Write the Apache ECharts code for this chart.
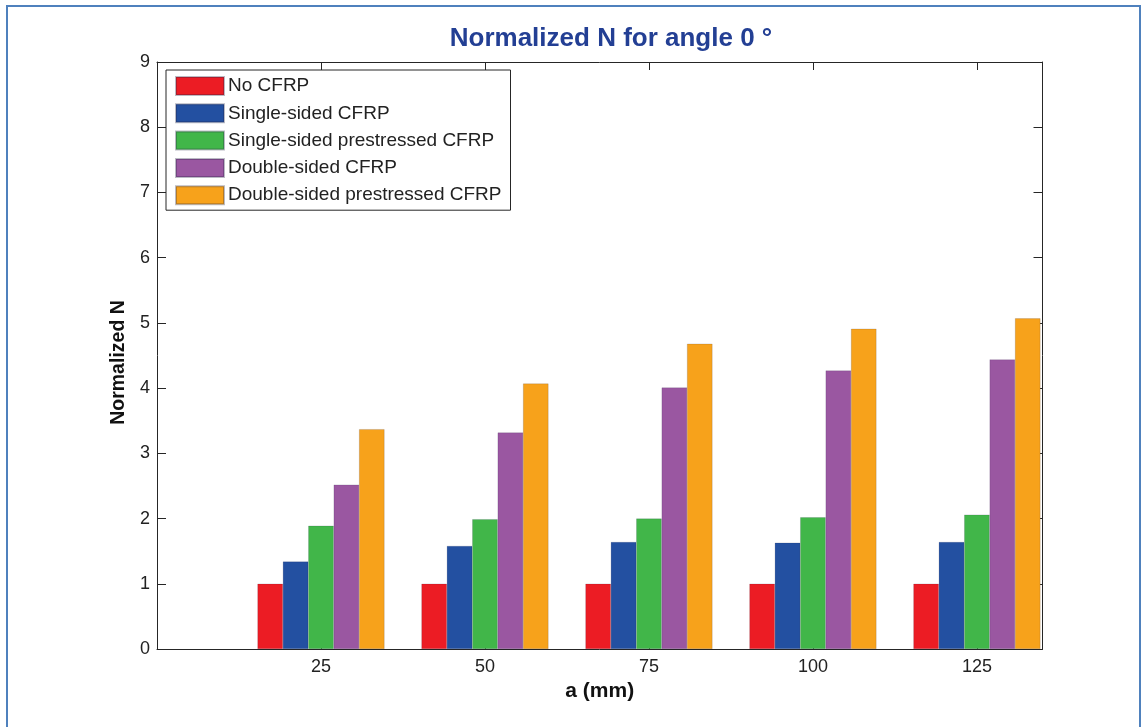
<!DOCTYPE html>
<html>
<head>
<meta charset="utf-8">
<script src="https://cdn.jsdelivr.net/npm/echarts@6/dist/echarts.min.js"></script>
<style>
  html, body { margin: 0; padding: 0; background: #ffffff; }
  #chart { width: 1144px; height: 727px; }
</style>
</head>
<body>
<div id="chart"></div>
<script>
// Crack length a (mm) for each bar group
const aValues = [25, 50, 75, 100, 125];
const xTickLabels = ['25', '50', '75', '100', '125'];
const yTickLabels = ['0', '1', '2', '3', '4', '5', '6', '7', '8', '9'];

// Normalized N per strengthening scheme
const seriesNames = [
  'No CFRP',
  'Single-sided CFRP',
  'Single-sided prestressed CFRP',
  'Double-sided CFRP',
  'Double-sided prestressed CFRP'
];
const noCFRP = [1.00, 1.00, 1.00, 1.00, 1.00];
const singleSided = [1.34, 1.58, 1.64, 1.63, 1.64];
const singleSidedPre = [1.89, 1.99, 2.00, 2.02, 2.06];
const doubleSided = [2.52, 3.32, 4.01, 4.27, 4.44];
const doubleSidedPre = [3.37, 4.07, 4.68, 4.91, 5.07];

const seriesValues = [noCFRP, singleSided, singleSidedPre, doubleSided, doubleSidedPre];
const seriesColors = ['#ec1c24', '#2350a1', '#41b649', '#9a57a1', '#f7a21b'];

const AXIS_COLOR = '#262626';
const TEXT_COLOR = '#222222';
const FONT = 'Liberation Sans, Arial, sans-serif';

const chart = echarts.init(document.getElementById('chart'), null, { renderer: 'canvas' });

const xCommon = {
  type: 'value', min: 0, max: 135, interval: 25,
  splitLine: { show: false },
  axisLine: { show: true, onZero: false, lineStyle: { color: AXIS_COLOR, width: 1 } },
  axisTick: { show: true, inside: true, length: 8, lineStyle: { color: AXIS_COLOR } }
};
const yCommon = {
  type: 'value', min: 0, max: 9, interval: 1,
  splitLine: { show: false },
  axisLine: { show: true, onZero: false, lineStyle: { color: AXIS_COLOR, width: 1 } },
  axisTick: { show: true, inside: true, length: 9, lineStyle: { color: AXIS_COLOR } }
};

const option = {
  backgroundColor: '#ffffff',
  animation: false,
  title: {
    text: 'Normalized N for angle 0 °',
    left: 606, top: 21, textAlign: 'center',
    textStyle: { color: '#233f94', fontFamily: FONT, fontWeight: 'bold', fontSize: 26 }
  },
  legend: {
    orient: 'vertical',
    left: 166, top: 70,
    padding: [6, 9, 5, 9],
    itemWidth: 48, itemHeight: 18, itemGap: 7.3,
    backgroundColor: '#ffffff',
    borderColor: AXIS_COLOR, borderWidth: 1,
    icon: 'rect',
    textStyle: { color: TEXT_COLOR, fontFamily: FONT, fontSize: 19, padding: [0, 0, 0, -1] },
    data: seriesNames
  },
  grid: { left: 157, right: 101.5, top: 62, bottom: 78, containLabel: false },
  xAxis: [
    Object.assign({}, xCommon, {
      position: 'bottom',
      name: 'a (mm)', nameLocation: 'middle', nameGap: 31,
      nameTextStyle: { color: '#111', fontFamily: FONT, fontWeight: 'bold', fontSize: 21 },
      axisLabel: {
        color: TEXT_COLOR, fontFamily: FONT, fontSize: 18, margin: 9,
        formatter: v => { const i = aValues.indexOf(v); return i >= 0 ? xTickLabels[i] : ''; }
      }
    }),
    Object.assign({}, xCommon, { position: 'top', axisLabel: { show: false } })
  ],
  yAxis: [
    Object.assign({}, yCommon, {
      position: 'left',
      name: 'Normalized N', nameLocation: 'middle', nameGap: 23, nameRotate: 90,
      nameTextStyle: { color: '#111', fontFamily: FONT, fontWeight: 'bold', fontSize: 19.5, padding: [0, 0, 0, -14] },
      axisLabel: {
        color: TEXT_COLOR, fontFamily: FONT, fontSize: 18, margin: 7,
        formatter: v => yTickLabels[Math.round(v)] ?? ''
      }
    }),
    Object.assign({}, yCommon, { position: 'right', axisLabel: { show: false } })
  ],
  series: seriesNames.map((name, s) => ({
    name: name,
    type: 'bar',
    xAxisIndex: 0, yAxisIndex: 0,
    barWidth: 25.4,
    barGap: '0%',
    itemStyle: { color: seriesColors[s], borderColor: 'rgba(30,30,60,0.3)', borderWidth: 0.5 },
    emphasis: { disabled: true },
    data: aValues.map((a, i) => [a, seriesValues[s][i]])
  })),
  graphic: [{
    type: 'rect',
    shape: { x: 7, y: 6, width: 1133, height: 800 },
    style: { fill: 'none', stroke: '#4f81bd', lineWidth: 2 },
    silent: true, z: 100
  }]
};

chart.setOption(option);
</script>
</body>
</html>
